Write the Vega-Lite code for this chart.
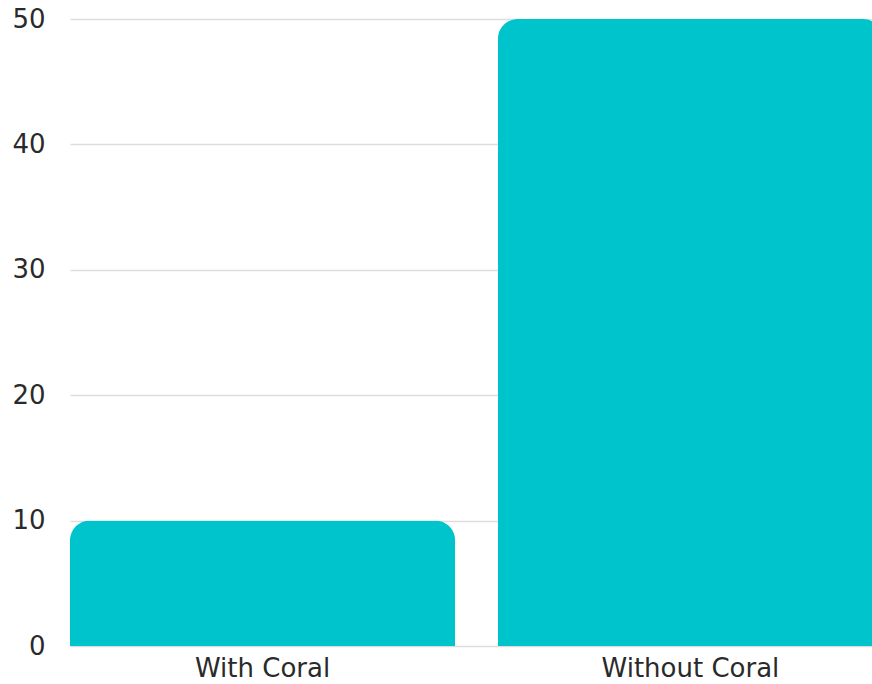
{
  "$schema": "https://vega.github.io/schema/vega-lite/v6.json",
  "width": 802,
  "height": 627,
  "autosize": {"type": "none"},
  "padding": {"left": 70, "top": 19, "right": 0, "bottom": 38},
  "background": "white",
  "config": {"view": {"stroke": null}},
  "data": {"values": [
    {"category": "With Coral", "value": 10},
    {"category": "Without Coral", "value": 50}
  ]},
  "mark": {"type": "bar", "color": "#00C4CC", "cornerRadiusTopLeft": 20, "cornerRadiusTopRight": 20},
  "encoding": {
    "x": {
      "field": "category", "type": "nominal", "sort": null,
      "scale": {"range": [0, 813], "paddingInner": 0.1, "paddingOuter": 0},
      "axis": {"title": null, "domain": false, "ticks": false, "labelAngle": 0, "labelFont": "DejaVu Sans", "labelFontSize": 26, "labelColor": "#2a2a2a", "labelPadding": 9}
    },
    "y": {
      "field": "value", "type": "quantitative",
      "scale": {"domain": [0, 50], "nice": false},
      "axis": {"title": null, "values": [0, 10, 20, 30, 40, 50], "domain": false, "ticks": false, "labelFont": "DejaVu Sans", "labelFontSize": 26, "labelColor": "#2a2a2a", "labelPadding": 25, "gridColor": "#dddddd", "gridWidth": 1.5}
    }
  }
}
